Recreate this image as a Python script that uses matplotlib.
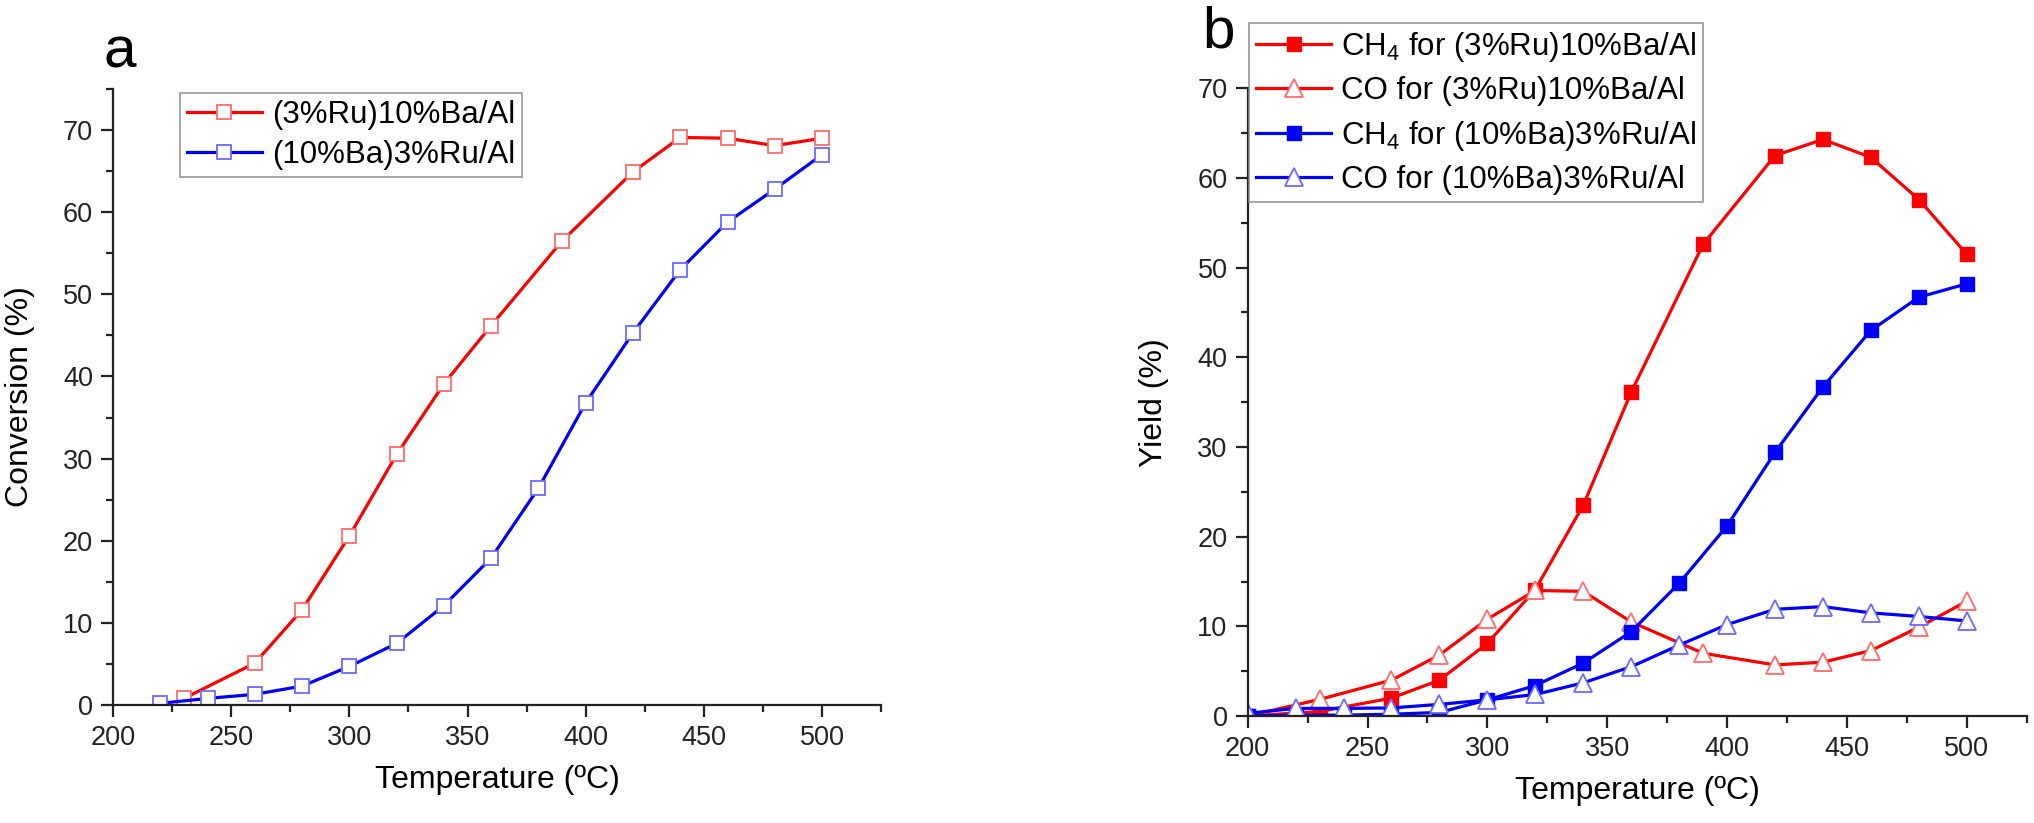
import numpy as np
import matplotlib
matplotlib.use('Agg')
import matplotlib.pyplot as plt
from matplotlib.ticker import MultipleLocator

plt.rcParams['font.family'] = ['Liberation Sans', 'DejaVu Sans']
plt.rcParams['mathtext.fontset'] = 'custom'
plt.rcParams['mathtext.rm'] = 'Liberation Sans'

# --- panel a : conversion
t_a_ru = [230, 260, 280, 300, 320, 340, 360, 390, 420, 440, 460, 480, 500]
conv_ru = [0.8, 5.1, 11.6, 20.6, 30.5, 39.1, 46.2, 56.5, 64.9, 69.1, 69.0, 68.1, 69.0]
t_a_ba = [220, 240, 260, 280, 300, 320, 340, 360, 380, 400, 420, 440, 460, 480, 500]
conv_ba = [0.2, 0.8, 1.3, 2.3, 4.7, 7.5, 12.1, 17.9, 26.4, 36.8, 45.3, 53.0, 58.8, 62.8, 67.0]

# --- panel b : yields
t_b_ru = [200, 230, 260, 280, 300, 320, 340, 360, 390, 420, 440, 460, 480, 500]
ch4_ru = [0, 0.5, 2.0, 4.0, 8.1, 14.1, 23.5, 36.1, 52.6, 62.5, 64.3, 62.3, 57.6, 51.5]
co_ru = [0, 1.85, 4.0, 6.8, 10.8, 14.0, 13.9, 10.5, 7.0, 5.7, 6.0, 7.3, 9.9, 12.8]
t_b_ba = [200, 220, 240, 260, 280, 300, 320, 340, 360, 380, 400, 420, 440, 460, 480, 500]
ch4_ba = [0, 0.1, 0.1, 0.2, 0.4, 1.8, 3.4, 5.9, 9.4, 14.8, 21.2, 29.4, 36.7, 43.0, 46.7, 48.2]
co_ba = [0.3, 0.85, 0.85, 0.9, 1.3, 1.8, 2.4, 3.7, 5.5, 7.9, 10.2, 11.9, 12.2, 11.5, 11.1, 10.6]

lab_ru = '(3%Ru)10%Ba/Al'
lab_ba = '(10%Ba)3%Ru/Al'

RED = '#ff0000'
BLUE = '#0000ff'
LRED = '#ff6a6a'
LBLUE = '#6a6aff'
AXC = '#222222'

fig = plt.figure(figsize=(20.34, 8.23), dpi=100)
ax1 = fig.add_axes([0.0556, 0.1434, 0.3776, 0.7485])
ax2 = fig.add_axes([0.6134, 0.130, 0.383, 0.7627])

def style(ax, ymax, ystep):
    for s in ['top', 'right']:
        ax.spines[s].set_visible(False)
    for s in ['left', 'bottom']:
        ax.spines[s].set_color(AXC)
        ax.spines[s].set_linewidth(1.6)
    ax.set_xlim(200, 525)
    ax.set_ylim(0, ymax)
    ax.set_xticks([200, 250, 300, 350, 400, 450, 500])
    ax.xaxis.set_minor_locator(MultipleLocator(25))
    ax.yaxis.set_major_locator(MultipleLocator(10))
    ax.yaxis.set_minor_locator(MultipleLocator(ystep))
    ax.tick_params(which='major', length=8.5, width=1.6, color=AXC,
                   labelsize=19.5, labelcolor=AXC, pad=6)
    ax.tick_params(which='minor', length=5, width=1.6, color=AXC)
    ax.set_xlabel('Temperature (ºC)', fontsize=23, labelpad=10)

def legend(ax, anchor, spacing):
    leg = ax.legend(loc='upper left', bbox_to_anchor=anchor, borderaxespad=0,
                    fontsize=22.5, frameon=True, fancybox=False, edgecolor='#888888',
                    handlelength=2.4, handletextpad=0.32, labelspacing=spacing,
                    borderpad=0.22)
    leg.get_frame().set_linewidth(1.3)
    return leg

# panel a
ax1.plot(t_a_ru, conv_ru, '-s', color=RED, lw=2.3, ms=10, mfc='white',
         mec=LRED, mew=1.3, label=lab_ru)
ax1.plot(t_a_ba, conv_ba, '-s', color=BLUE, lw=2.3, ms=10, mfc='white',
         mec=LBLUE, mew=1.3, label=lab_ba)
style(ax1, 75, 5)
ax1.set_ylabel('Conversion (%)', fontsize=23, labelpad=20)
legend(ax1, (0.087, 0.9935), 0.33)

# panel b
ax2.plot(t_b_ru, ch4_ru, '-s', color=RED, lw=2.3, ms=10.5, mfc=RED, mec=RED,
         label=r'CH$_\mathregular{4}$ for ' + lab_ru)
ax2.plot(t_b_ru, co_ru, '-^', color=RED, lw=2.3, ms=13, mfc='white', mec=LRED,
         mew=1.3, label='CO for ' + lab_ru)
ax2.plot(t_b_ba, ch4_ba, '-s', color=BLUE, lw=2.3, ms=10.5, mfc=BLUE, mec=BLUE,
         label=r'CH$_\mathregular{4}$ for ' + lab_ba)
ax2.plot(t_b_ba, co_ba, '-^', color=BLUE, lw=2.3, ms=13, mfc='white', mec=LBLUE,
         mew=1.3, label='CO for ' + lab_ba)
style(ax2, 70, 5)
ax2.set_ylabel('Yield (%)', fontsize=23, labelpad=20)
legend(ax2, (0.002, 1.104), 0.4)

fig.text(103 / 2034, 1 - 67 / 823, 'a', fontsize=42, va='baseline', ha='left')
fig.text(1202 / 2034, 1 - 48 / 823, 'b', fontsize=42, va='baseline', ha='left')

fig.savefig('out.png', dpi=100)
